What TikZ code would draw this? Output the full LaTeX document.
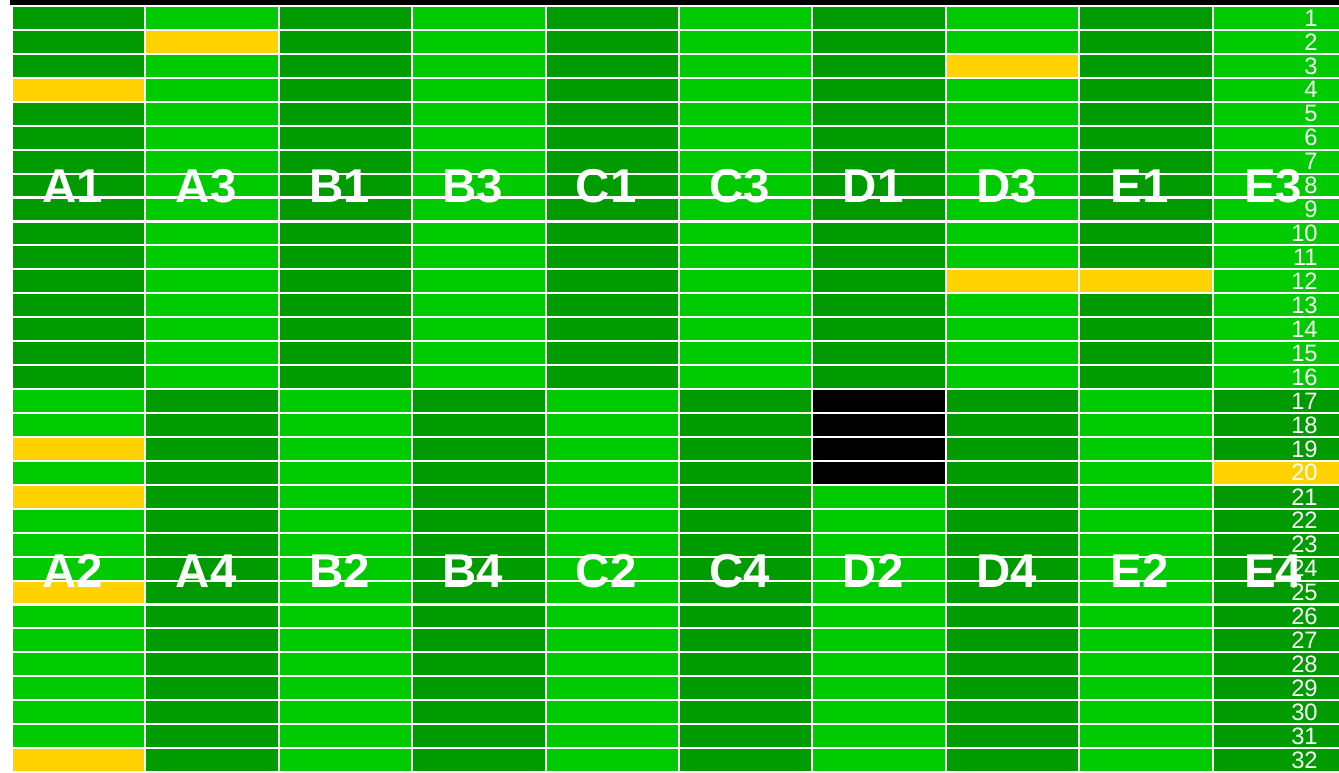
\documentclass[tikz,border=0pt]{standalone}
\usepackage{fontspec}
\setmainfont{Liberation Sans}
\usepackage{tikz}

\definecolor{dkgreen}{RGB}{0,155,0}
\definecolor{ltgreen}{RGB}{0,203,0}
\definecolor{hityellow}{RGB}{255,210,0}

\begin{document}
\begin{tikzpicture}[x=0.02cm,y=-0.02cm,
        gridline/.style={white,line width=0.042cm},
        platelabel/.style={text=white,inner sep=0pt,font=\bfseries\fontsize{27}{27}\selectfont},
        rownum/.style={text=white,inner sep=0pt,anchor=east,font=\fontsize{13.5}{13.5}\selectfont}]
        \clip (0,0) rectangle (1339,773);
        \fill[white] (0,0) rectangle (1339,773);
        \fill[black] (10,0) rectangle (1339,5);
        \foreach \i/\up/\lo/\tl/\bl in {0/dkgreen/ltgreen/A1/A2,1/ltgreen/dkgreen/A3/A4,
                2/dkgreen/ltgreen/B1/B2,3/ltgreen/dkgreen/B3/B4,4/dkgreen/ltgreen/C1/C2,
                5/ltgreen/dkgreen/C3/C4,6/dkgreen/ltgreen/D1/D2,7/ltgreen/dkgreen/D3/D4,
                8/dkgreen/ltgreen/E1/E2,9/ltgreen/dkgreen/E3/E4} {
            \fill[\up] ({12+133.4*\i},6) rectangle ({145.4+133.4*\i},{6+16*23.94});
            \fill[\lo] ({12+133.4*\i},{6+16*23.94}) rectangle ({145.4+133.4*\i},{6+32*23.94});
        }
        \foreach \i/\r in {0/4,1/2,7/3,7/12,8/12,0/19,0/21,0/25,0/32,9/20}
            \fill[hityellow] ({12+133.4*\i},{6+23.94*(\r-1)}) rectangle ({145.4+133.4*\i},{6+23.94*\r});
        \foreach \r in {17,...,20}
            \fill[black] ({12+133.4*6},{6+23.94*(\r-1)}) rectangle ({145.4+133.4*6},{6+23.94*\r});
        \foreach \j in {0,...,32}
            \draw[gridline] (12,{6+23.94*\j}) -- (1339,{6+23.94*\j});
        \foreach \i in {0,...,9}
            \draw[gridline] ({12+133.4*\i},6) -- ({12+133.4*\i},773);
        \foreach \i/\tl/\bl in {0/A1/A2,1/A3/A4,2/B1/B2,3/B3/B4,4/C1/C2,
                5/C3/C4,6/D1/D2,7/D3/D4,8/E1/E2,9/E3/E4} {
            \node[platelabel] (\tl) at ({72.7+133.4*\i},186) {\tl};
            \node[platelabel] (\bl) at ({72.7+133.4*\i},571) {\bl};
        }
        \foreach \r in {1,...,32}
            \node[rownum] (n\r) at (1318,{6+23.94*(\r-0.5)}) {\r};
    \end{tikzpicture}
\end{document}
